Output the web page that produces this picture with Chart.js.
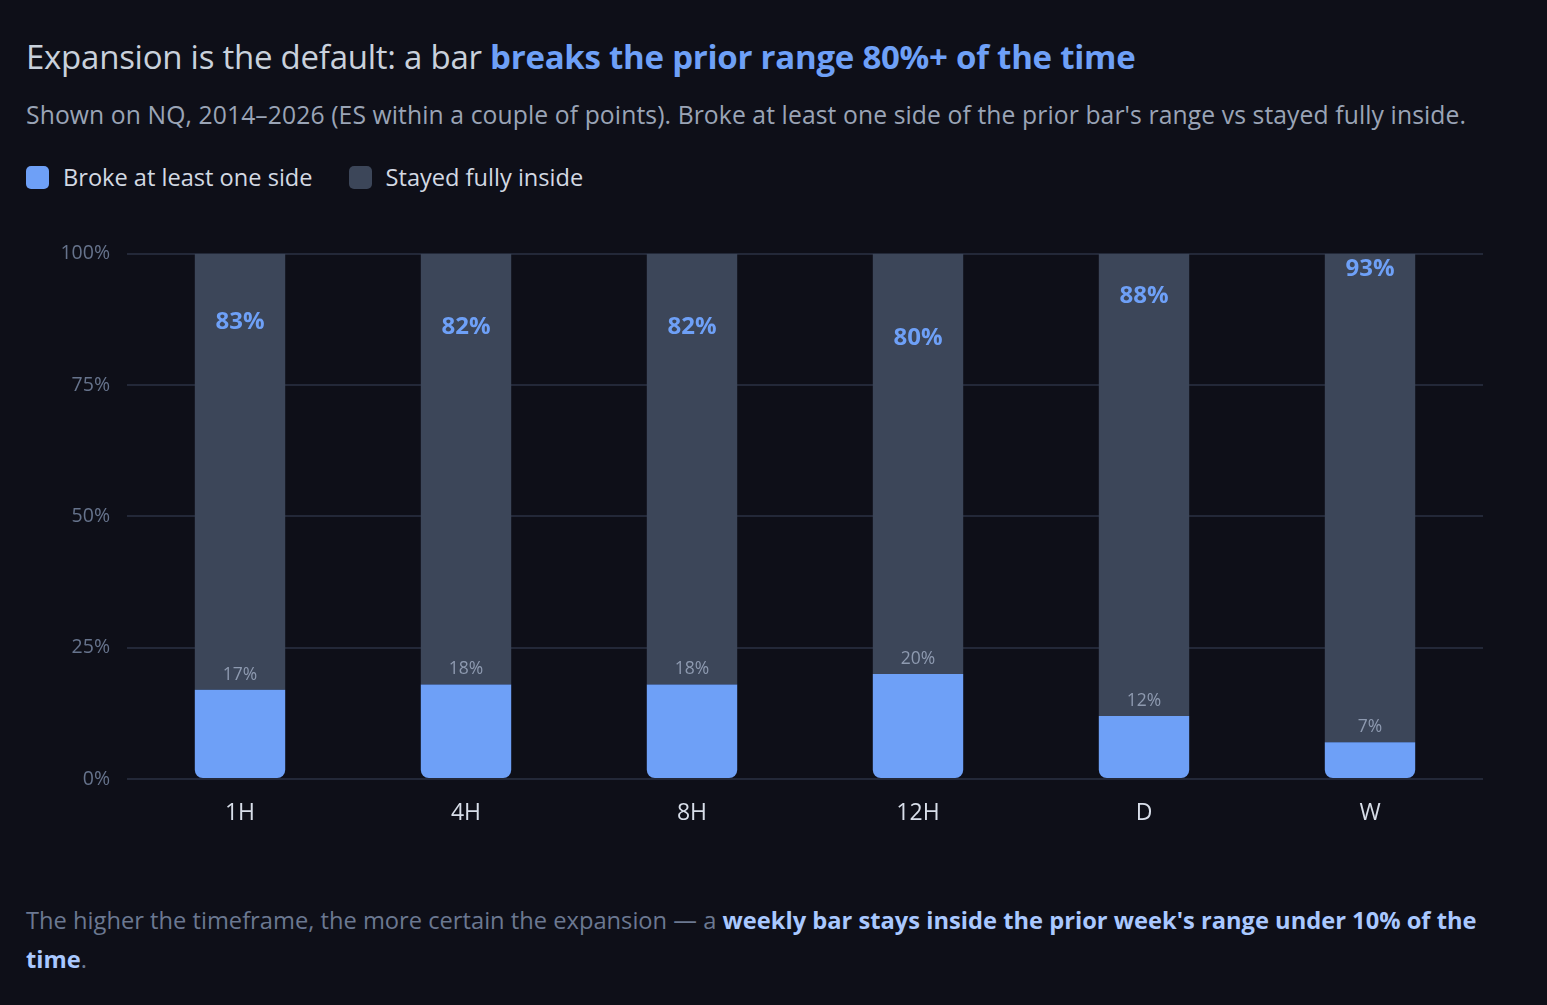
<!DOCTYPE html>
<html>
<head>
<meta charset="utf-8">
<script src="https://cdn.jsdelivr.net/npm/chart.js@4.4.0/dist/chart.umd.min.js"></script>
<style>
  html, body { margin: 0; padding: 0; background: #0e0f18; }
  body { width: 1547px; height: 1005px; position: relative; font-family: "Open Sans", "Noto Sans", sans-serif; overflow: hidden; }
  #title { position: absolute; left: 26px; top: 34px; font-size: 33px; color: #c9d1dc; font-weight: 500; white-space: nowrap; letter-spacing: -0.25px; }
  #title b { color: #6ea0f7; font-weight: 700; }
  #sub { position: absolute; left: 26px; top: 98px; font-size: 24.7px; color: #9aa4b6; white-space: nowrap; letter-spacing: 0.1px; }
  #legend { position: absolute; left: 26px; top: 161px; font-size: 23.6px; color: #d3d9e3; display: flex; align-items: center; }
  .sw { display: inline-block; width: 23px; height: 23px; border-radius: 5px; margin-right: 14px; }
  .item { display: flex; align-items: center; margin-right: 36px; }
  #wrap { position: absolute; left: 26px; top: 225px; width: 1457px; height: 614px; }
  #foot { position: absolute; left: 26px; top: 901px; width: 1470px; font-size: 23.7px; line-height: 39px; color: #6b7891; }
  #foot b { color: #a9c8ff; font-weight: 700; }
</style>
</head>
<body>
<div id="title">Expansion is the default: a bar <b>breaks the prior range 80%+ of the time</b></div>
<div id="sub">Shown on NQ, 2014–2026 (ES within a couple of points). Broke at least one side of the prior bar's range vs stayed fully inside.</div>
<div id="legend">
  <div class="item"><span class="sw" style="background:#6ea0f7"></span>Broke at least one side</div>
  <div class="item"><span class="sw" style="background:#3c4659"></span>Stayed fully inside</div>
</div>
<div id="wrap"><canvas id="chart"></canvas></div>
<div id="foot">The higher the timeframe, the more certain the expansion — a <b>weekly bar stays inside the prior week's range under 10% of the time</b>.</div>

<script>
// data
const timeframes = ['1H', '4H', '8H', '12H', 'D', 'W']
const brokePct = [83, 82, 82, 80, 88, 93]
const insidePct = [17, 18, 18, 20, 12, 7]
const yTicks = [0, 25, 50, 75, 100]

const blue = '#6ea0f7'
const slate = '#3c4659'

// value labels above each segment top
const labelPlugin = {
    id: 'segLabels',
    afterDatasetsDraw(chart) {
        const ctx = chart.ctx
        const y = chart.scales.y
        const x = chart.scales.x
        ctx.save()
        ctx.textAlign = 'center'
        ctx.textBaseline = 'middle'
        timeframes.forEach((tf, i) => {
            const cx = x.getPixelForValue(i)
            ctx.font = 'bold 24px "Open Sans", "Noto Sans", sans-serif'
            ctx.fillStyle = blue
            ctx.fillText(brokePct[i] + '%', cx, y.getPixelForValue(brokePct[i]) - 21)
            ctx.font = '17.5px "Open Sans", "Noto Sans", sans-serif'
            ctx.fillStyle = '#8e9ab0'
            ctx.fillText(insidePct[i] + '%', cx, y.getPixelForValue(insidePct[i]) - 15)
        })
        ctx.restore()
    }
}

const data = {
    labels: timeframes,
    datasets: [
        {
            label: 'Stayed fully inside',
            data: insidePct,
            backgroundColor: blue,
            borderRadius: { topLeft: 0, topRight: 0, bottomLeft: 8, bottomRight: 8 },
            borderSkipped: false,
            stack: 's'
        },
        {
            label: 'Broke at least one side',
            data: brokePct,
            backgroundColor: slate,
            borderRadius: 0,
            stack: 's'
        }
    ]
}

const config = {
    type: 'bar',
    data,
    options: {
        responsive: true,
        maintainAspectRatio: false,
        animation: false,
        layout: { padding: { top: 10, right: 0, left: 0, bottom: 0 } },
        datasets: { bar: { barPercentage: 0.4, categoryPercentage: 1.0 } },
        plugins: { legend: { display: false }, tooltip: { enabled: false } },
        scales: {
            x: {
                stacked: true,
                grid: { display: false, drawTicks: false },
                border: { display: false },
                ticks: { color: '#d8dee9', font: { size: 23, family: '"Open Sans", "Noto Sans", sans-serif' }, padding: 21 },
                afterFit(axis) { axis.height = 60 }
            },
            y: {
                stacked: true,
                min: 0, max: 100,
                afterBuildTicks(axis) { axis.ticks = yTicks.map(v => ({ value: v })) },
                grid: { color: '#232838', lineWidth: 2, drawTicks: false },
                border: { display: false },
                ticks: {
                    color: '#66738c',
                    font: { size: 19.5, family: '"Open Sans", "Noto Sans", sans-serif' },
                    padding: 17,
                    callback: v => v + '%'
                },
                afterFit(axis) { axis.width = 101 }
            }
        }
    },
    plugins: [labelPlugin]
}

const myChart = new Chart(document.getElementById('chart'), config)
</script>
</body>
</html>
